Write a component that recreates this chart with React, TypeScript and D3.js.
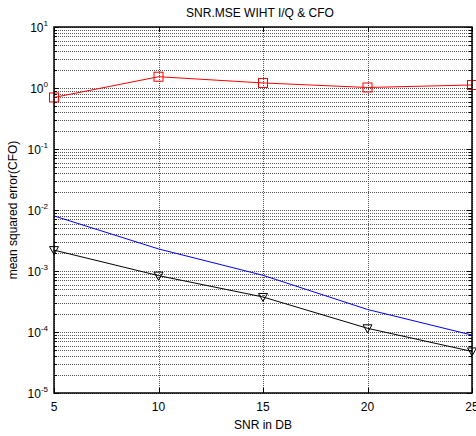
import React from "react";
import * as d3 from "d3";

const snr = [5, 10, 15, 20, 25];
const redMse = [0.70, 1.53, 1.21, 1.02, 1.12];
const blueMse = [0.0080, 0.0023, 0.00085, 0.000234, 0.000089];
const blackMse = [0.0022, 0.00084, 0.000375, 0.000115, 0.000048];
const xTicks = [5, 10, 15, 20, 25];
const yExponents = [1, 0, -1, -2, -3, -4, -5];

const W = 476, H = 436;
const M = { left: 54, right: 472, top: 27, bottom: 393 };

export default function App() {
  const x = d3.scaleLinear().domain([5, 25]).range([M.left, M.right]);
  const y = d3.scaleLog().domain([1e-5, 10]).range([M.bottom, M.top]);
  const line = d3.line<number>().x((_, i) => x(snr[i])).y((d) => y(d));
  const font = "Liberation Sans, Arial, sans-serif";

  const minor: number[] = [];
  for (let e = -5; e < 1; e++) for (let k = 2; k <= 9; k++) minor.push(k * Math.pow(10, e));
  const majors = yExponents.map((e) => Math.pow(10, e));
  const r = (v: number) => Math.round(v) + 0.5;

  return (
    <svg width={W} height={H} style={{ position: "absolute", left: 0, top: 0, background: "#fff" }}>
      <rect x={0} y={0} width={W} height={H} fill="#fff" />
      {/* grid */}
      <g stroke="#555" strokeWidth={1} strokeDasharray="1 1" shapeRendering="crispEdges">
        {[...minor, ...majors].map((v, i) => (
          <line key={"gy" + i} x1={M.left} x2={M.right} y1={r(y(v))} y2={r(y(v))} />
        ))}
        {xTicks.map((t, i) => (
          <line key={"gx" + i} x1={r(x(t))} x2={r(x(t))} y1={M.top} y2={M.bottom} />
        ))}
      </g>
      {/* ticks */}
      <g stroke="#000" strokeWidth={1} shapeRendering="crispEdges">
        {minor.map((v, i) => (
          <g key={"mt" + i}>
            <line x1={M.left} x2={M.left + 3} y1={r(y(v))} y2={r(y(v))} />
            <line x1={M.right} x2={M.right - 3} y1={r(y(v))} y2={r(y(v))} />
          </g>
        ))}
        {majors.map((v, i) => (
          <g key={"Mt" + i}>
            <line x1={M.left} x2={M.left + 5} y1={r(y(v))} y2={r(y(v))} />
            <line x1={M.right} x2={M.right - 5} y1={r(y(v))} y2={r(y(v))} />
          </g>
        ))}
        {xTicks.map((t, i) => (
          <g key={"xt" + i}>
            <line x1={r(x(t))} x2={r(x(t))} y1={M.bottom} y2={M.bottom - 5} />
            <line x1={r(x(t))} x2={r(x(t))} y1={M.top} y2={M.top + 5} />
          </g>
        ))}
      </g>
      {/* series */}
      <path d={line(redMse) || ""} fill="none" stroke="#f00" strokeWidth={1} />
      <path d={line(blueMse) || ""} fill="none" stroke="#00f" strokeWidth={1} />
      <path d={line(blackMse) || ""} fill="none" stroke="#000" strokeWidth={1} />
      {redMse.map((v, i) => (
        <rect key={"rm" + i} x={x(snr[i]) - 4.5} y={y(v) - 4.5} width={9} height={9} fill="none" stroke="#f00" strokeWidth={1} />
      ))}
      {blackMse.map((v, i) => {
        const cx = x(snr[i]), cy = y(v);
        return (
          <path key={"bm" + i} d={`M${cx - 4.5},${cy - 3.5} L${cx + 4.5},${cy - 3.5} L${cx},${cy + 4.5} Z`} fill="none" stroke="#000" strokeWidth={1} />
        );
      })}
      {/* frame */}
      <rect x={M.left} y={M.top} width={M.right - M.left} height={M.bottom - M.top} fill="none" stroke="#000" strokeWidth={1.5} />
      {/* y tick labels */}
      {yExponents.map((e, i) => (
        <text key={"yl" + i} x={M.left - 6} y={y(Math.pow(10, e)) + 5} textAnchor="end" fontFamily={font} fontSize={12} fill="#000">
          10<tspan dy={-6} fontSize={8}>{e}</tspan>
        </text>
      ))}
      {/* x tick labels */}
      {xTicks.map((t, i) => (
        <text key={"xl" + i} x={x(t)} y={M.bottom + 18} textAnchor="middle" fontFamily={font} fontSize={12} fill="#000">
          {t}
        </text>
      ))}
      <text x={(M.left + M.right) / 2} y={429} textAnchor="middle" fontFamily={font} fontSize={12} fill="#000">SNR in DB</text>
      <text x={(M.left + M.right) / 2 - 3} y={17} textAnchor="middle" fontFamily={font} fontSize={12} fill="#000">SNR.MSE WIHT I/Q &amp; CFO</text>
      <text transform={`translate(17,${(M.top + M.bottom) / 2}) rotate(-90)`} textAnchor="middle" fontFamily={font} fontSize={12} fill="#000">mean squared error(CFO)</text>
    </svg>
  );
}
